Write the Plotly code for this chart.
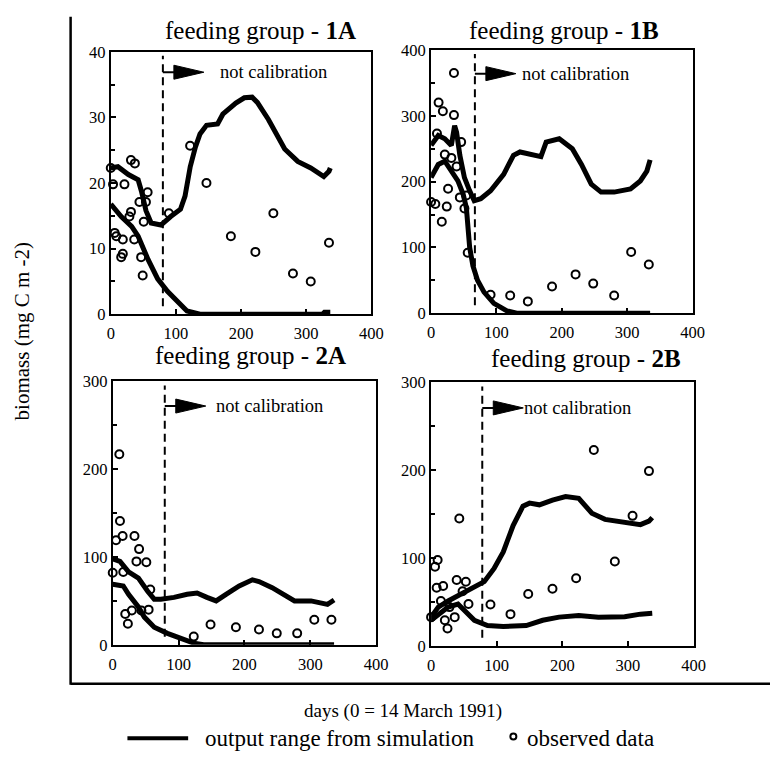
import plotly.graph_objects as go

# ---------------- data ----------------
g1a_up_day = [0, 11, 27, 42, 47, 54, 62, 77, 92, 107, 114, 122, 130, 137, 147, 164, 172, 192, 205, 217, 225, 242, 267, 287, 307, 327, 335, 337]
g1a_up_val = [22.3, 22.5, 21.3, 20.5, 18.8, 15.8, 13.9, 13.6, 14.9, 16.0, 18.0, 22.5, 25.5, 27.5, 28.8, 29.0, 30.5, 32.2, 33.0, 33.1, 32.3, 29.7, 25.2, 23.3, 22.3, 21.0, 21.8, 22.3]
g1a_lo_day = [0, 16, 32, 42, 57, 72, 87, 102, 117, 137, 200, 300, 325, 328, 337]
g1a_lo_val = [16.8, 14.9, 13.4, 11.9, 8.4, 5.4, 3.5, 2.0, 0.5, 0, 0, 0, 0, 0.3, 0.3]
g1a_obs_day = [0, 3.5, 6, 8.5, 18.5, 16, 18.5, 21, 28.6, 31, 31, 37, 36, 44, 46.6, 49, 50.6, 54, 56.6, 89.2, 121.8, 146.9, 184.4, 222, 249.6, 279.7, 307, 335]
g1a_obs_val = [22.3, 19.8, 12.4, 11.9, 11.4, 8.7, 9.2, 19.8, 14.9, 15.6, 23.5, 23.0, 11.4, 17.1, 8.7, 5.9, 14.1, 17.1, 18.6, 15.4, 25.7, 20.0, 11.9, 9.5, 15.4, 6.2, 5.0, 10.9]

g1b_up_day = [0, 11, 21, 31, 36, 39, 44, 51, 59, 66, 76, 91, 111, 126, 136, 156, 168, 176, 196, 216, 230, 245, 260, 280, 305, 320, 330, 335]
g1b_up_val = [255, 270, 265, 255, 285, 275, 240, 206, 186, 171, 174, 186, 211, 240, 245, 240, 238, 260, 265, 250, 226, 196, 184, 184, 189, 201, 216, 233]
g1b_lo_day = [0, 11, 21, 31, 41, 49, 54, 59, 64, 71, 81, 96, 116, 131, 335]
g1b_lo_val = [206, 226, 231, 216, 201, 181, 160, 100, 72, 50, 32, 15, 3.5, 0, 0]
g1b_obs_day = [0, 6.5, 16.4, 24, 26, 11.5, 18, 35, 35, 9, 21, 31, 39, 46, 44, 54, 51, 56, 91, 121, 148, 185, 221, 248, 280, 306, 333]
g1b_obs_val = [169, 166, 139, 162, 189, 320, 307, 301, 365, 273, 241, 236, 223, 260, 176, 179, 159, 92, 28, 27, 18, 40.5, 59, 45, 27, 93, 74]

g2a_up_day = [0, 11, 24, 39, 53, 63, 73, 93, 113, 128, 143, 157, 172, 192, 212, 222, 242, 261, 276, 301, 326, 336]
g2a_up_val = [98, 95, 83, 76, 61, 52, 52, 54, 57.5, 59, 54, 50, 57.5, 67, 74, 72, 65, 56, 50, 50, 46, 51]
g2a_lo_day = [0, 16, 24, 39, 48, 63, 83, 103, 123, 138, 336]
g2a_lo_val = [69, 67, 57.5, 43, 31.5, 20, 13, 7.4, 1.9, 0, 0]
g2a_obs_day = [0, 10, 5, 11, 15, 16, 19, 23, 29, 33, 36, 40, 43.5, 51, 54.5, 57, 123, 148.5, 187, 222, 249, 280, 306, 332]
g2a_obs_val = [82, 217, 119, 141, 124, 83, 35, 24, 39, 124, 95, 109, 39, 94, 40, 63, 9.3, 23, 20, 17.4, 13, 13, 28.6, 28.6]

g2b_up_day = [0, 11, 26, 46, 66, 81, 96, 110, 125, 140, 150, 165, 185, 205, 225, 245, 265, 295, 319, 332, 337]
g2b_up_val = [32.6, 44, 51, 59, 66, 73, 88, 107, 137, 159, 162.5, 160.6, 166, 170, 168, 151, 144, 140, 138, 142, 146]
g2b_lo_day = [0, 11, 26, 41, 51, 66, 86, 110, 145, 170, 195, 225, 255, 295, 319, 337]
g2b_lo_val = [29, 36, 44, 47.5, 40, 29, 23, 22, 23, 29, 32.6, 34.5, 32.6, 33, 36, 37]
g2b_obs_day = [0, 6, 10, 8.5, 18.4, 21, 25, 15, 28, 36, 39, 43, 48, 53, 57, 90.5, 121, 148, 185, 221, 248, 280, 307, 332]
g2b_obs_val = [32.6, 90, 97.6, 66, 68, 29, 19.7, 51, 44, 32.6, 75, 145, 62, 73, 47.5, 47, 36, 59, 65, 77, 223, 96, 148, 199]

panel_labels = ["1A", "1B", "2A", "2B"]
y_max = [40, 400, 300, 300]
y_dtick = [10, 100, 100, 100]
calib_day = [80, 67, 79, 78]
arrow_level = [36.9, 364, 272, 271]
x_ticks = [0, 100, 200, 300, 400]

# ---------------- layout geometry ----------------
W, H = 782, 763
FONT = "Liberation Serif"
px = lambda v: v / W
py = lambda v: 1 - v / H

# plot boxes in screen pixels: (left, right, top, bottom)
boxes = [(109, 375, 44, 313), (436, 703, 42, 312), (111, 380, 382, 652), (436, 704, 383, 653)]
title_pos = [(262, 38), (572, 38), (252, 371), (594, 374)]
text_shift = [55, 45, 49, 40]

panels = [
    (g1a_up_day, g1a_up_val, g1a_lo_day, g1a_lo_val, g1a_obs_day, g1a_obs_val),
    (g1b_up_day, g1b_up_val, g1b_lo_day, g1b_lo_val, g1b_obs_day, g1b_obs_val),
    (g2a_up_day, g2a_up_val, g2a_lo_day, g2a_lo_val, g2a_obs_day, g2a_obs_val),
    (g2b_up_day, g2b_up_val, g2b_lo_day, g2b_lo_val, g2b_obs_day, g2b_obs_val),
]

fig = go.Figure()
shapes = []
annotations = []
layout_axes = {}

for i, (ud, uv, ld, lv, od, ov) in enumerate(panels):
    n = "" if i == 0 else str(i + 1)
    xa, ya = "x" + n, "y" + n
    for dd, vv in ((ud, uv), (ld, lv)):
        fig.add_trace(go.Scatter(x=dd, y=vv, mode="lines", xaxis=xa, yaxis=ya,
                                 line=dict(color="black", width=5), cliponaxis=False,
                                 hoverinfo="skip"))
    fig.add_trace(go.Scatter(x=od, y=ov, mode="markers", xaxis=xa, yaxis=ya, cliponaxis=False,
                             marker=dict(symbol="circle-open", size=8, color="black",
                                         line=dict(width=2, color="black"))))
    l, r, t, b = boxes[i]
    tickfont = dict(family=FONT, size=16.5, color="black")
    layout_axes["xaxis" + n] = dict(domain=[px(l), px(r)], anchor=ya, range=[0, 400],
                                    tickvals=x_ticks, ticks="inside", ticklen=5, tickwidth=1.5,
                                    tickcolor="black", showline=True, linewidth=2, linecolor="black",
                                    mirror=True, showgrid=False, zeroline=False, tickfont=tickfont,
                                    ticklabelstandoff=3)
    layout_axes["yaxis" + n] = dict(domain=[py(b), py(t)], anchor=xa, range=[0, y_max[i]],
                                    dtick=y_dtick[i], tick0=0, ticks="inside", ticklen=5, tickwidth=1.5,
                                    tickcolor="black", showline=True, linewidth=2, linecolor="black",
                                    mirror=True, showgrid=False, zeroline=False, tickfont=tickfont,
                                    minor=dict(dtick=y_dtick[i] / 2, ticks="inside", ticklen=4,
                                               tickwidth=1.5, tickcolor="black", showgrid=False))
    # dashed calibration limit
    shapes.append(dict(type="line", xref=xa, yref=ya + " domain", x0=calib_day[i], x1=calib_day[i],
                       y0=0.03, y1=0.985, line=dict(color="black", width=2, dash="8px,5px")))
    # arrow (stem + filled head), sized in pixels from the calibration line
    shapes.append(dict(type="path", xref=xa, yref=ya, xsizemode="pixel", ysizemode="pixel",
                       xanchor=calib_day[i], yanchor=arrow_level[i],
                       path="M0,0 L12,0", line=dict(color="black", width=2)))
    shapes.append(dict(type="path", xref=xa, yref=ya, xsizemode="pixel", ysizemode="pixel",
                       xanchor=calib_day[i], yanchor=arrow_level[i],
                       path="M11,-7 L41,0 L11,7 Z", fillcolor="black", line=dict(color="black", width=1)))
    annotations.append(dict(xref=xa, yref=ya, x=calib_day[i], y=arrow_level[i], xshift=text_shift[i],
                            text="not calibration", showarrow=False, xanchor="left", yanchor="middle",
                            font=dict(family=FONT, size=18.5, color="black")))
    tx, ty = title_pos[i]
    annotations.append(dict(xref="paper", yref="paper", x=px(tx), y=py(ty), yanchor="bottom",
                            xanchor="center", showarrow=False,
                            text="feeding group - <b>%s</b>" % panel_labels[i],
                            font=dict(family=FONT, size=25, color="black")))

# outer frame lines
shapes.append(dict(type="line", xref="paper", yref="paper", x0=px(68), x1=px(68), y0=py(8), y1=py(693),
                   line=dict(color="black", width=2.5)))
shapes.append(dict(type="line", xref="paper", yref="paper", x0=px(68), x1=px(782), y0=py(692), y1=py(692),
                   line=dict(color="black", width=2.5)))

# axis titles
annotations.append(dict(xref="paper", yref="paper", x=px(18), y=py(330), text="biomass (mg C m -2)",
                        textangle=-90, showarrow=False, xanchor="center", yanchor="middle",
                        font=dict(family=FONT, size=21, color="black")))
annotations.append(dict(xref="paper", yref="paper", x=px(407), y=py(720), text="days (0 = 14 March 1991)",
                        showarrow=False, xanchor="center", yanchor="middle",
                        font=dict(family=FONT, size=19, color="black")))

# legend
leg_y = 748
shapes.append(dict(type="line", xref="paper", yref="paper", x0=px(126), x1=px(188), y0=py(leg_y), y1=py(leg_y),
                   line=dict(color="black", width=4)))
annotations.append(dict(xref="paper", yref="paper", x=px(203), y=py(leg_y), xanchor="left", yanchor="middle",
                        text="output range from simulation", showarrow=False,
                        font=dict(family=FONT, size=23, color="black")))
shapes.append(dict(type="circle", xref="paper", yref="paper", xsizemode="pixel", ysizemode="pixel",
                   xanchor=px(520), yanchor=py(leg_y - 2), x0=-3, x1=3, y0=-3, y1=3,
                   line=dict(color="black", width=2)))
annotations.append(dict(xref="paper", yref="paper", x=px(532), y=py(leg_y), xanchor="left", yanchor="middle",
                        text="observed data", showarrow=False,
                        font=dict(family=FONT, size=23, color="black")))

fig.update_layout(width=W, height=H, autosize=False, margin=dict(l=0, r=0, t=0, b=0), showlegend=False,
                  paper_bgcolor="white", plot_bgcolor="white", shapes=shapes, annotations=annotations,
                  font=dict(family=FONT, color="black"), **layout_axes)

# remove the default page margin so the figure sits at the window origin
fig.write_html("out.html", config={"displayModeBar": False},
               post_script="document.body.style.margin='0';")
